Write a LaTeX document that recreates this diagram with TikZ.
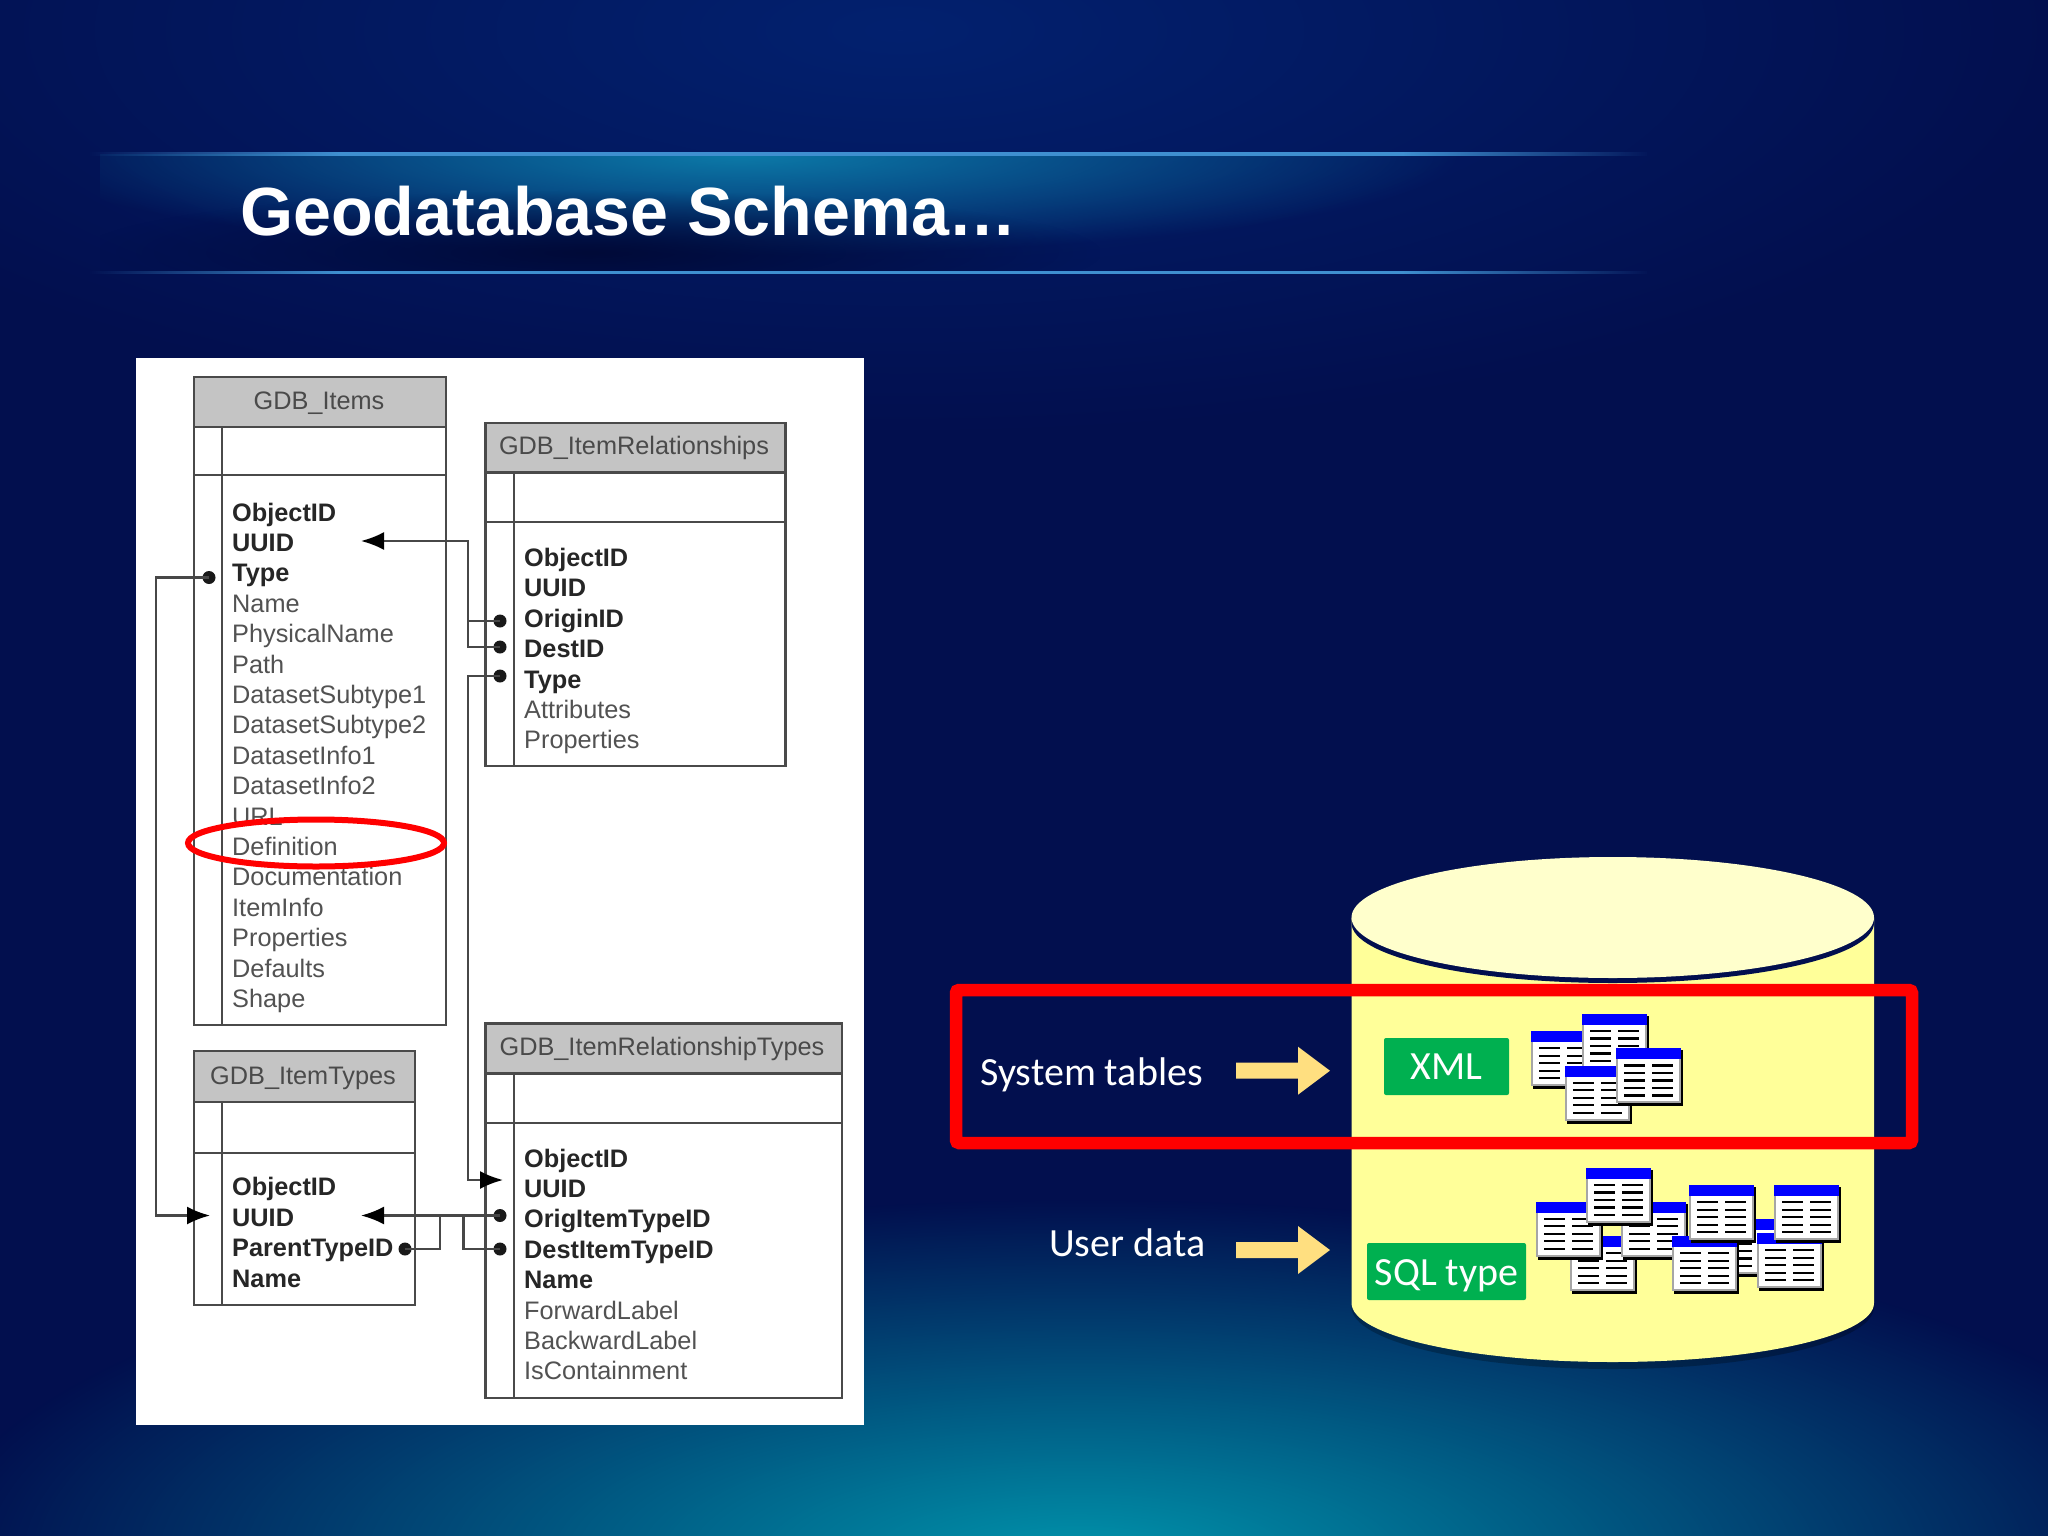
\documentclass[tikz,border=0pt]{standalone}
\usepackage{fontspec}
\setmainfont{Liberation Sans}
\newfontfamily\calib{Carlito}
\usetikzlibrary{arrows.meta,fadings,calc}
\definecolor{navy}{HTML}{020F4E}
\definecolor{topblue}{HTML}{03216F}
\definecolor{teal}{HTML}{0094AC}
\definecolor{band}{HTML}{0C7AA8}
\definecolor{bandline}{HTML}{3F8FD0}
\definecolor{bandnight}{HTML}{000A38}
\definecolor{cylbody}{HTML}{FFFF99}
\definecolor{cyltop}{HTML}{FFFFCC}
\definecolor{boxgreen}{HTML}{00B050}
\definecolor{pale}{HTML}{FFDF80}
\definecolor{ink}{HTML}{4A4A4A}
\definecolor{hdr}{HTML}{C4C4C4}
\tikzfading[name=softglow, inner color=transparent!0, outer color=transparent!100]
\pgfdeclarehorizontalshading{hlineshade}{100bp}{color(0bp)=(pgftransparent!100); color(25bp)=(pgftransparent!100); color(33bp)=(pgftransparent!0); color(67bp)=(pgftransparent!0); color(75bp)=(pgftransparent!100); color(100bp)=(pgftransparent!100)}
\pgfdeclarefading{hlinefade}{\pgfuseshading{hlineshade}}
\tikzset{
  tabbox/.style={draw=ink,line width=2.4pt,fill=white},
  tabhead/.style={draw=ink,line width=2.4pt,fill=hdr},
  tabline/.style={draw=ink,line width=2.4pt},
  headtext/.style={anchor=base,font=\fontsize{25.3}{25.3}\selectfont,text=ink,inner sep=0pt},
  keyrow/.style={anchor=base west,inner sep=0pt,font=\fontsize{25.3}{25.3}\selectfont\bfseries,text=black!85},
  plainrow/.style={anchor=base west,inner sep=0pt,font=\fontsize{25.3}{25.3}\selectfont,text=black!68},
  link/.style={draw=black!72,line width=2.2pt},
  linkarrow/.style={link,-{Latex[length=23pt,width=18pt,fill=black,color=black]}},
  keydot/.style={circle,fill=black!90,minimum size=13pt,inner sep=0pt},
  pointer/.style={fill=pale},
  redframe/.style={draw=red,line width=12.5pt,rounded corners=3pt},
  tag/.style={fill=boxgreen,rounded corners=2pt,text=white,font=\calib\fontsize{40}{40}\selectfont,inner sep=0pt},
  sidelabel/.style={text=white,font=\calib\fontsize{40}{40}\selectfont,inner sep=0pt},
  ticon/.pic={
    \fill[black] (2,2) rectangle (67,58);
    \fill[white] (0,0) rectangle (65,55);
    \draw[black!35,line width=2pt] (1,0) -- (1,54) -- (64,54) -- (64,0);
    \fill[blue] (0,0) rectangle (65,11);
    \foreach \r in {16,23.5,31,38.5,46}{
      \fill[black] (8,\r) rectangle (29,\r+2.2);
      \fill[black] (36,\r) rectangle (57,\r+2.2);
    }
  }
}
\newcommand{\iconat}[2]{\pic at ({1340+#1/2.613},{840+#2/2.904}) {ticon};}
\begin{document}
\begin{tikzpicture}[x=1pt,y=-1pt]
\useasboundingbox (0,0) rectangle (2048,1536);
\begin{scope}
\clip (0,0) rectangle (2048,1536);
\fill[navy] (0,0) rectangle (2048,1536);
% upper glow
\fill[topblue,path fading=softglow] (-300,-380) rectangle (2100,440);
% lower glow
\fill[teal,path fading=softglow] (-70,1200) rectangle (2230,1920);
% title band
\begin{scope}
\clip (100,155) rectangle (1650,272);
\fill[band,path fading=softglow] (20,55) rectangle (1460,255);
\fill[bandnight,path fading=softglow] (80,190) rectangle (1100,315);
\end{scope}
\fill[bandline,path fading=hlinefade] (90,152.5) rectangle (1650,156);
\fill[bandline,path fading=hlinefade] (90,270.5) rectangle (1650,274);
\end{scope}
\node[anchor=base west,inner sep=0pt,text=white,font=\fontsize{68.2}{69}\selectfont\bfseries] (title) at (240,235) {Geodatabase Schema…};

% schema panel
\fill[white] (136,358) rectangle (864,1425);

% GDB_Items
\path[tabbox] (194,377) rectangle (446,1025);
\path[tabhead] (194,377) rectangle (446,427);
\path[tabline] (194,475) -- (446,475) (222,427) -- (222,1025);
\node[headtext] (items) at (319,409) {GDB\_Items};
\foreach \t [count=\i from 0] in {ObjectID,UUID,Type}
  \node[keyrow] (it\i) at (232,{521+30.4*\i}) {\t};
\foreach \t [count=\i from 3] in {Name,PhysicalName,Path,DatasetSubtype1,DatasetSubtype2,DatasetInfo1,DatasetInfo2,URL,Definition,Documentation,ItemInfo,Properties,Defaults,Shape}
  \node[plainrow] (it\i) at (232,{521+30.4*\i}) {\t};

% GDB_ItemRelationships
\path[tabbox] (485.5,423) rectangle (785.5,766);
\path[tabhead] (485.5,423) rectangle (785.5,472.5);
\path[tabline] (485.5,522) -- (785.5,522) (514,472.5) -- (514,766);
\node[headtext] (rel) at (634,454.6) {GDB\_ItemRelationships};
\foreach \t [count=\i from 0] in {ObjectID,UUID,OriginID,DestID,Type}
  \node[keyrow] (re\i) at (524,{566.5+30.4*\i}) {\t};
\foreach \t [count=\i from 5] in {Attributes,Properties}
  \node[plainrow] (re\i) at (524,{566.5+30.4*\i}) {\t};

% GDB_ItemTypes
\path[tabbox] (194,1051) rectangle (415,1305);
\path[tabhead] (194,1051) rectangle (415,1102);
\path[tabline] (194,1153) -- (415,1153) (222,1102) -- (222,1305);
\node[headtext] (types) at (303,1084) {GDB\_ItemTypes};
\foreach \t [count=\i from 0] in {ObjectID,UUID,ParentTypeID,Name}
  \node[keyrow] (ty\i) at (232,{1195.5+30.5*\i}) {\t};

% GDB_ItemRelationshipTypes
\path[tabbox] (485.5,1023.5) rectangle (842,1398);
\path[tabhead] (485.5,1023.5) rectangle (842,1073.5);
\path[tabline] (485.5,1123) -- (842,1123) (514,1073.5) -- (514,1398);
\node[headtext] (rtypes) at (662,1055.5) {GDB\_ItemRelationshipTypes};
\foreach \t [count=\i from 0] in {ObjectID,UUID,OrigItemTypeID,DestItemTypeID,Name}
  \node[keyrow] (rt\i) at (524,{1167+30.4*\i}) {\t};
\foreach \t [count=\i from 5] in {ForwardLabel,BackwardLabel,IsContainment}
  \node[plainrow] (rt\i) at (524,{1167+30.4*\i}) {\t};

% connector ends
\node[keydot] (dOrigin) at (500,621) {};
\node[keydot] (dDest) at (500,647) {};
\node[keydot] (dRelType) at (500,676) {};
\node[keydot] (dItemType) at (209,577.5) {};
\node[keydot] (dOrigItem) at (500,1215.5) {};
\node[keydot] (dDestItem) at (500,1249) {};
\node[keydot] (dParent) at (405,1249) {};
\coordinate (tItemUUID) at (361,541);
\coordinate (tRtUUID) at (503,1180);
\coordinate (tTyL) at (210,1215.5);
\coordinate (tTyR) at (361,1215.5);
\coordinate (jA) at (468,621);
\coordinate (jB) at (440,1215.5);
\coordinate (jC) at (463.5,1215.5);

\draw[linkarrow] (dDest.center) -| (468,541) -- (tItemUUID);
\draw[link] (dOrigin.center) -- (jA);
\draw[linkarrow] (dRelType.center) -| (468,1180) -- (tRtUUID);
\draw[linkarrow] (dItemType.center) -| (156,1215.5) -- (tTyL);
\draw[linkarrow] (dOrigItem.center) -- (tTyR);
\draw[link] (dParent.center) -| (jB);
\draw[link] (dDestItem.center) -| (jC);

% highlight on Definition
\draw[red,line width=6pt] (316,843) ellipse [x radius=128,y radius=23.5];

% cylinder
\fill[black,opacity=.25] (1351.5,1000) -- (1874,1000) -- (1874,1307) arc[start angle=0,end angle=180,x radius=261.25,y radius=62] -- cycle;
\fill[cylbody] (1351.5,917.5) -- (1874,917.5) -- (1874,1303) arc[start angle=0,end angle=180,x radius=261.25,y radius=59] -- cycle;
\fill[navy] (1612.75,923) ellipse [x radius=261.25,y radius=60];
\fill[cyltop] (1612.75,917.5) ellipse [x radius=261.25,y radius=60.5];

% red frame
\draw[redframe] (956,990) rectangle (1912,1143);

% tags
\node[tag,minimum width=125pt,text height=41.3pt,text depth=15.7pt] (xml) at (1446.5,1066.5) {XML};
\node[tag,minimum width=159pt,text height=42pt,text depth=15pt] (sql) at (1446.5,1271.5) {SQL type};

% table icons
\iconat{499}{555}
\iconat{632}{505}
\iconat{588}{655}
\iconat{721}{605}
\iconat{600}{1150}
\iconat{511}{1050}
\iconat{733}{1050}
\iconat{644}{952}
\iconat{1000}{1100}
\iconat{867}{1150}
\iconat{1090}{1142}
\iconat{911}{1002}
\iconat{1135}{1002}

% side labels
\node[sidelabel,anchor=base east] (sys) at (1203,1085) {System tables};
\node[sidelabel,anchor=base east] (usr) at (1205.5,1256) {User data};
\fill[pointer] (1236,1062.7) -- (1298,1062.7) -- (1298,1046.7) -- (1330,1070.7) -- (1298,1094.7) -- (1298,1078.7) -- (1236,1078.7) -- cycle;
\fill[pointer] (1236,1242) -- (1298,1242) -- (1298,1226) -- (1330,1250) -- (1298,1274) -- (1298,1258) -- (1236,1258) -- cycle;
\end{tikzpicture}
\end{document}
